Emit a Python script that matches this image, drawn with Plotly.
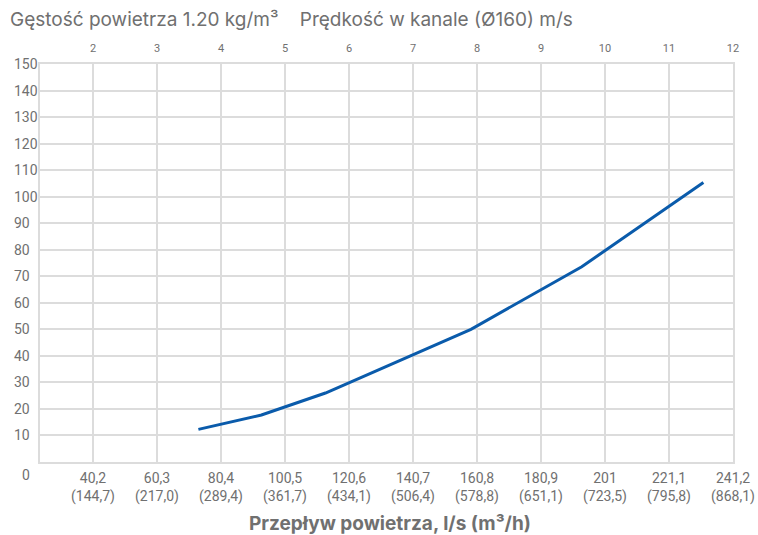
import plotly.graph_objects as go

# Airflow (l/s) vs pressure, with duct velocity for Ø160 on the top axis
flow_ls = [73.3, 93.1, 113.2, 158.9, 193.7, 231.9]
pressure = [12.3, 17.7, 26.0, 50.0, 73.6, 105.3]

flow_ticks = [40.2, 60.3, 80.4, 100.5, 120.6, 140.7, 160.8, 180.9, 201.0, 221.1, 241.2]
flow_labels = ["40,2", "60,3", "80,4", "100,5", "120,6", "140,7",
               "160,8", "180,9", "201", "221,1", "241,2"]
flow_m3h_labels = ["(144,7)", "(217,0)", "(289,4)", "(361,7)", "(434,1)", "(506,4)",
                   "(578,8)", "(651,1)", "(723,5)", "(795,8)", "(868,1)"]
velocity_ticks = [2, 3, 4, 5, 6, 7, 8, 9, 10, 11, 12]
pressure_ticks = [10, 20, 30, 40, 50, 60, 70, 80, 90, 100, 110, 120, 130, 140, 150]

DUCT_FACTOR = 20.1  # l/s per m/s for a Ø160 duct
X_MIN, X_MAX = 23.55, 241.2

GRID = "#dcdcdc"
TXT = "#707070"
TICKFONT = "Roboto"

fig = go.Figure()
fig.add_trace(go.Scatter(
    x=flow_ls, y=pressure, mode="lines",
    line=dict(color="#0a5bab", width=3),
    hoverinfo="skip", showlegend=False,
))
# invisible trace binding the top velocity axis
fig.add_trace(go.Scatter(
    x=[X_MIN / DUCT_FACTOR, X_MAX / DUCT_FACTOR], y=[0, 0], xaxis="x2",
    mode="markers", marker=dict(opacity=0), hoverinfo="skip", showlegend=False,
))

fig.update_layout(
    width=758, height=535,
    margin=dict(l=40, r=25, t=64, b=73),
    paper_bgcolor="white", plot_bgcolor="white",
    xaxis=dict(
        range=[X_MIN, X_MAX], tickmode="array", tickvals=flow_ticks,
        ticktext=[f"{a}<br>{b}" for a, b in zip(flow_labels, flow_m3h_labels)],
        showgrid=True, gridcolor=GRID, gridwidth=1.5,
        showline=True, linecolor=GRID, linewidth=1.5, mirror=True,
        ticks="", ticklabelstandoff=2, automargin=False,
        tickfont=dict(family=TICKFONT, size=14, color=TXT),
        zeroline=False,
    ),
    xaxis2=dict(
        overlaying="x", side="top",
        range=[X_MIN / DUCT_FACTOR, X_MAX / DUCT_FACTOR],
        tickmode="array", tickvals=velocity_ticks,
        showgrid=False, showline=False, ticks="", ticklabelstandoff=9,
        automargin=False,
        tickfont=dict(family=TICKFONT, size=11, color=TXT),
        zeroline=False,
    ),
    yaxis=dict(
        range=[0, 150], tickmode="array", tickvals=pressure_ticks,
        showticklabels=False, automargin=False,
        showgrid=True, gridcolor=GRID, gridwidth=1.5,
        showline=True, linecolor=GRID, linewidth=1.5, mirror=True,
        ticks="", zeroline=False,
    ),
)

# left-aligned pressure labels
for v in pressure_ticks:
    fig.add_annotation(
        x=-28 / 693, xref="paper", xanchor="left",
        y=v, yref="y", yanchor="middle",
        text=str(v), showarrow=False,
        font=dict(family=TICKFONT, size=14, color=TXT),
    )
fig.add_annotation(
    x=-20 / 693, xref="paper", xanchor="left",
    y=-13 / 398, yref="paper", yanchor="middle",
    text="0", showarrow=False,
    font=dict(family=TICKFONT, size=14, color=TXT),
)

fig.add_annotation(
    x=-32 / 693, xref="paper", xanchor="left",
    y=1 + 44 / 398, yref="paper", yanchor="middle",
    text="Gęstość powietrza 1.20 kg/m³    Prędkość w kanale (Ø160) m/s",
    showarrow=False,
    font=dict(family="Inter", size=19, color=TXT),
)
fig.add_annotation(
    x=(390 - 40) / 693, xref="paper", xanchor="center",
    y=-61 / 398, yref="paper", yanchor="middle",
    text="<b>Przepływ powietrza, l/s (m³/h)</b>",
    showarrow=False,
    font=dict(family="Inter", size=19, color=TXT),
)

fig.write_html("out.html")
